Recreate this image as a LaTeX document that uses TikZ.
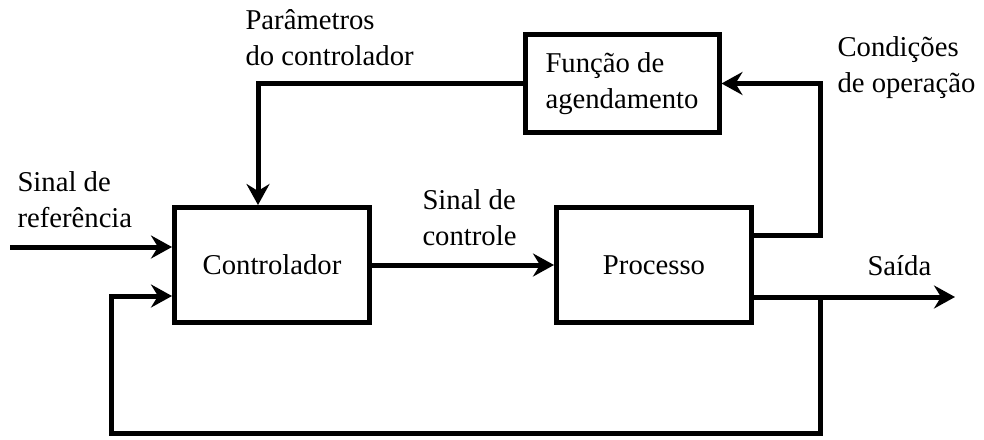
\documentclass[tikz,border=0pt]{standalone}
\usepackage{fontspec}
\setmainfont{Liberation Serif}
\usetikzlibrary{arrows.meta}
\begin{document}
\begin{tikzpicture}[x=1pt,y=-1pt,
  font=\fontsize{28.7}{36}\selectfont,
  line width=5pt,
  bloco/.style={draw,minimum width=195pt,minimum height=115pt,inner sep=0pt},
  rotulo/.style={align=left,inner sep=0pt,anchor=base west},
  seta/.style={-{Stealth[length=21pt,width=23pt,inset=7pt]}}]
\useasboundingbox (0,0) rectangle (984,439);

\node[bloco] (ctrl) at (272,265) {Controlador};
\node[bloco] (proc) at (654,265) {Processo};
\node[bloco,minimum width=194pt,minimum height=98pt,align=left] (fun) at (622,83.5) {Função de\\agendamento};

\coordinate (ref) at (10,247);
\coordinate (sai) at (955,297);
\coordinate (br) at (820,297);
\coordinate (cond) at (fun.east -| br);
\coordinate (fb) at (111,433);

\draw[seta] (ref) -- (ref -| ctrl.west);
\draw[seta] (ctrl) -- (proc);
\draw[seta] ([yshift=30pt]proc.east) -| (cond) -- (fun.east);
\draw[seta] (fun.west) -| ([xshift=-14pt]ctrl.north);
\draw[seta] ([yshift=-32pt]proc.east) -- (sai);
\draw[seta] (br) |- (fb) |- ([yshift=-31pt]ctrl.west);

% the base anchor sits on the last line
\node[rotulo] (par) at (243,65) {Parâmetros\\do controlador};
\node[rotulo] (sref) at (15,227) {Sinal de\\referência};
\node[rotulo] (sctl) at (420,245) {Sinal de\\controle};
\node[rotulo] (cop) at (835,92) {Condições\\de operação};
\node[rotulo] (said) at (865,275) {Saída};
\end{tikzpicture}
\end{document}
